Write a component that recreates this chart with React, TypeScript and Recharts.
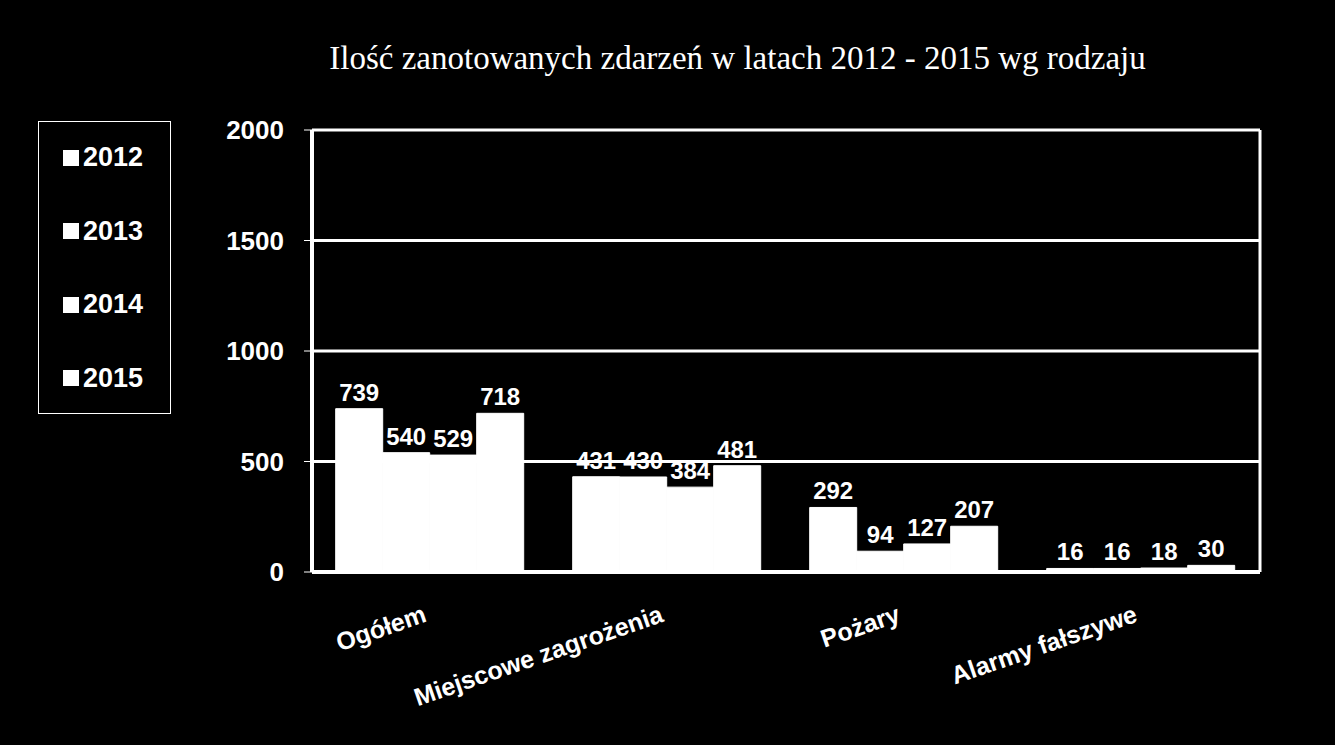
import React from 'react';
import { BarChart, Bar, XAxis, YAxis, CartesianGrid, LabelList } from 'recharts';

const categories = ['Ogółem', 'Miejscowe zagrożenia', 'Pożary', 'Alarmy fałszywe'];
const years = ['2012', '2013', '2014', '2015'];
const values2012 = [739, 431, 292, 16];
const values2013 = [540, 430, 94, 16];
const values2014 = [529, 384, 127, 18];
const values2015 = [718, 481, 207, 30];
const yTicks = [0, 500, 1000, 1500, 2000];

const data = categories.map((name, i) => ({
    name,
    '2012': values2012[i],
    '2013': values2013[i],
    '2014': values2014[i],
    '2015': values2015[i],
}));

const FONT = '"Liberation Sans", Arial, sans-serif';

const AngledTick = (props: any) => {
    const { x, y, payload } = props;
    return (
        <g transform={`translate(${x - 8},${y + 26})`}>
            <text
                transform="rotate(-19)"
                textAnchor="end"
                fill="#fff"
                fontFamily={FONT}
                fontWeight="bold"
                fontSize={25}
                dy={16}
            >
                {payload.value}
            </text>
        </g>
    );
};

const LegendBox = () => (
    <div
        style={{
            position: 'absolute',
            left: 38,
            top: 121,
            width: 133,
            height: 293,
            border: '1px solid #fff',
            boxSizing: 'border-box',
        }}
    >
        {years.map((y, i) => (
            <div
                key={y}
                style={{
                    position: 'absolute',
                    left: 24,
                    top: 20 + i * 73.5,
                    display: 'flex',
                    alignItems: 'center',
                    color: '#fff',
                    fontFamily: FONT,
                    fontWeight: 'bold',
                    fontSize: 27,
                }}
            >
                <span style={{ width: 16, height: 16, background: '#fff', marginRight: 4 }} />
                {y}
            </div>
        ))}
    </div>
);

export default function App() {
    return (
        <div style={{ position: 'absolute', left: 0, top: 0, width: 1335, height: 745, background: '#000' }}>
            <div
                style={{
                    position: 'absolute',
                    top: 40,
                    left: 70,
                    width: 1335,
                    textAlign: 'center',
                    color: '#fff',
                    fontFamily: '"Liberation Serif", "Times New Roman", serif',
                    fontSize: 33,
                }}
            >
                Ilość zanotowanych zdarzeń w latach 2012 - 2015 wg rodzaju
            </div>
            <LegendBox />
            <BarChart
                width={1335}
                height={745}
                data={data}
                margin={{ top: 130, right: 75, bottom: 0, left: 252 }}
                barGap={0}
                barCategoryGap="10%"
            >
                <CartesianGrid
                    stroke="#fff"
                    strokeWidth={3}
                    verticalCoordinatesGenerator={({ offset }: any) => [offset.left + offset.width]}
                />
                <XAxis
                    dataKey="name"
                    tick={<AngledTick />}
                    tickLine={false}
                    axisLine={{ stroke: '#fff', strokeWidth: 4 }}
                    interval={0}
                    height={173}
                />
                <YAxis
                    domain={[0, 2000]}
                    ticks={yTicks}
                    width={60}
                    tickSize={8}
                    tickMargin={20}
                    tick={{ fill: '#fff', fontFamily: FONT, fontWeight: 'bold', fontSize: 26 }}
                    axisLine={{ stroke: '#fff', strokeWidth: 4 }}
                    tickLine={{ stroke: '#fff' }}
                />
                {years.map((y) => (
                    <Bar key={y} dataKey={y} fill="#fff" stroke="#fff" strokeWidth={1} isAnimationActive={false}>
                        <LabelList
                            dataKey={y}
                            position="top"
                            offset={8}
                            fill="#fff"
                            fontFamily={FONT}
                            fontWeight="bold"
                            fontSize={24}
                        />
                    </Bar>
                ))}
            </BarChart>
        </div>
    );
}
